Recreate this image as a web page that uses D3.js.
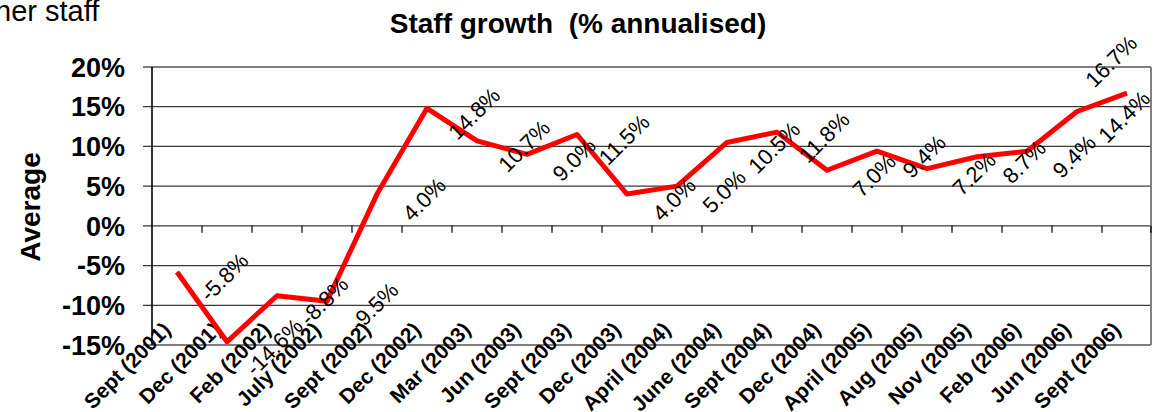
<!DOCTYPE html>
<html>
<head>
<meta charset="utf-8">
<script src="https://cdn.jsdelivr.net/npm/d3@7"></script>
<style>
  body { margin: 0; background: #fff; }
  svg { display: block; font-family: "Liberation Sans", Arial, sans-serif; }
</style>
</head>
<body>
<div id="chart"></div>
<script>
// Chart data
const categories = ['Sept (2001)', 'Dec (2001)', 'Feb (2002)', 'July (2002)', 'Sept (2002)',
  'Dec (2002)', 'Mar (2003)', 'Jun (2003)', 'Sept (2003)', 'Dec (2003)', 'April (2004)',
  'June (2004)', 'Sept (2004)', 'Dec (2004)', 'April (2005)', 'Aug (2005)', 'Nov (2005)',
  'Feb (2006)', 'Jun (2006)', 'Sept (2006)']
const growth = [-5.8, -14.6, -8.8, -9.5, 4.0, 14.8, 10.7, 9.0, 11.5, 4.0, 5.0,
  10.5, 11.8, 7.0, 9.4, 7.2, 8.7, 9.4, 14.4, 16.7]
const yTicks = [-15, -10, -5, 0, 5, 10, 15, 20]

// Canvas
const width = 1158,
  height = 412
const plot = { left: 152, right: 1152, top: 67, bottom: 345 }

let svg = d3.select('#chart')
  .append('svg')
  .attr('width', width)
  .attr('height', height)

// Scales
const x = d3.scaleBand()
  .domain(categories)
  .range([plot.left, plot.right])
  .padding(0)

const y = d3.scaleLinear()
  .domain([-15, 20])
  .range([plot.bottom, plot.top])

const cx = (d) => x(d) + x.bandwidth() / 2

// Cut-off text at top left (clipped in the original too)
svg.append('text')
  .attr('x', -5)
  .attr('y', 21)
  .attr('font-size', 29)
  .attr('fill', '#000')
  .text('her staff')

// Title
svg.append('text')
  .attr('x', 578)
  .attr('y', 33)
  .attr('text-anchor', 'middle')
  .attr('font-size', 28)
  .attr('font-weight', 'bold')
  .attr('xml:space', 'preserve')
  .text('Staff growth  (% annualised)')

// Y axis title
svg.append('text')
  .attr('transform', 'translate(40, 207) rotate(-90)')
  .attr('text-anchor', 'middle')
  .attr('font-size', 28)
  .attr('font-weight', 'bold')
  .text('Average')

// Gridlines + y ticks
svg.append('g')
  .selectAll('line')
  .data(yTicks)
  .enter()
  .append('line')
  .attr('x1', plot.left - 9)
  .attr('x2', plot.right - 1)
  .attr('y1', (d) => y(d))
  .attr('y2', (d) => y(d))
  .attr('stroke', (d) => (d === 20 || d === -15) ? '#808080' : '#3a3a3a')
  .attr('stroke-width', (d) => (d === 20 || d === -15) ? 2 : 1.2)

// right border
svg.append('line')
  .attr('x1', plot.right - 1)
  .attr('x2', plot.right - 1)
  .attr('y1', y(20))
  .attr('y2', y(-15))
  .attr('stroke', '#808080')
  .attr('stroke-width', 2)

// y axis labels
svg.append('g')
  .attr('transform', `translate(${plot.left - 27}, 0)`)
  .selectAll('text')
  .data(yTicks)
  .enter()
  .append('text')
  .attr('y', (d) => y(d))
  .attr('dy', '0.36em')
  .attr('text-anchor', 'end')
  .attr('font-size', 27)
  .attr('font-weight', 'bold')
  .text((d) => d + '%')

// left axis line
svg.append('line')
  .attr('x1', plot.left)
  .attr('x2', plot.left)
  .attr('y1', y(20))
  .attr('y2', y(-15))
  .attr('stroke', '#000')
  .attr('stroke-width', 1.6)

// x axis at 0% with ticks on category boundaries
const boundaries = categories.slice(1).map((c) => x(c)).concat([plot.right - 1])
svg.append('g')
  .selectAll('line')
  .data(boundaries)
  .enter()
  .append('line')
  .attr('x1', (d) => d)
  .attr('x2', (d) => d)
  .attr('y1', y(0))
  .attr('y2', y(0) + 7)
  .attr('stroke', '#000')
  .attr('stroke-width', 1.2)

// category labels
svg.append('g')
  .attr('transform', `translate(0, ${plot.bottom - 14})`)
  .call(d3.axisBottom(x).tickSize(0))
  .call((g) => g.select('.domain').remove())
  .selectAll('text')
  .attr('x', 0)
  .attr('y', 0)
  .attr('dy', 0)
  .attr('transform', 'translate(-5, 0) rotate(-45)')
  .attr('text-anchor', 'end')
  .attr('font-size', 21)
  .attr('font-weight', 'bold')
  .attr('font-family', '"Liberation Sans", Arial, sans-serif')
  .attr('fill', '#000')

// growth line
const line = d3.line()
  .x((d, i) => cx(categories[i]))
  .y((d) => y(d))

svg.append('path')
  .datum(growth)
  .attr('d', line)
  .attr('fill', 'none')
  .attr('stroke', '#ff0000')
  .attr('stroke-width', 5)
  .attr('stroke-linejoin', 'round')

// data labels (last one pushed back inside the plot)
svg.append('g')
  .selectAll('text')
  .data(growth)
  .enter()
  .append('text')
  .attr('transform', (d, i) => {
    const last = i === growth.length - 1
    const lx = cx(categories[i]) + (last ? -16 : 47)
    const ly = y(d) + (last ? -32 : 5)
    return `translate(${lx}, ${ly}) rotate(-45)`
  })
  .attr('text-anchor', 'middle')
  .attr('dy', '0.36em')
  .attr('font-size', 22)
  .attr('fill', '#000')
  .text((d) => d.toFixed(1) + '%')
</script>
</body>
</html>
